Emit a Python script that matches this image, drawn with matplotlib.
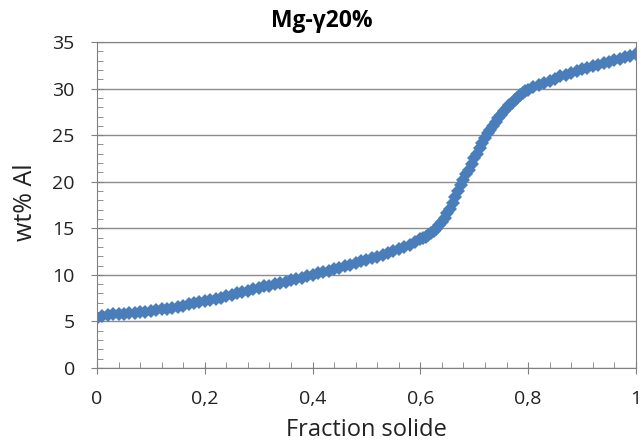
import matplotlib.pyplot as plt
from matplotlib.ticker import MultipleLocator, FuncFormatter

# Fraction solide (x) et teneur en Al (y)
frac = [0.00, 0.01, 0.02, 0.03, 0.04, 0.05, 0.06, 0.07, 0.08, 0.09,
        0.10, 0.11, 0.12, 0.13, 0.14, 0.15, 0.16, 0.17, 0.18, 0.19,
        0.20, 0.21, 0.22, 0.23, 0.24, 0.25, 0.26, 0.27, 0.28, 0.29,
        0.30, 0.31, 0.32, 0.33, 0.34, 0.35, 0.36, 0.37, 0.38, 0.39,
        0.40, 0.41, 0.42, 0.43, 0.44, 0.45, 0.46, 0.47, 0.48, 0.49,
        0.50, 0.51, 0.52, 0.53, 0.54, 0.55, 0.56, 0.57, 0.58, 0.59,
        0.60, 0.605, 0.61, 0.615, 0.62, 0.625, 0.63, 0.635, 0.64, 0.645,
        0.65, 0.655, 0.66, 0.665, 0.67, 0.675, 0.68, 0.685, 0.69, 0.695,
        0.70, 0.705, 0.71, 0.715, 0.72, 0.725, 0.73, 0.735, 0.74, 0.745,
        0.75, 0.755, 0.76, 0.765, 0.77, 0.775, 0.78, 0.785, 0.79, 0.795,
        0.80, 0.81, 0.82, 0.83, 0.84, 0.85, 0.86, 0.87, 0.88, 0.89,
        0.90, 0.91, 0.92, 0.93, 0.94, 0.95, 0.96, 0.97, 0.98, 0.99, 1.00]
wt_al = [5.4, 5.6, 5.7, 5.75, 5.8, 5.85, 5.9, 5.95, 6.0, 6.05,
         6.1, 6.2, 6.3, 6.35, 6.45, 6.55, 6.7, 6.85, 6.95, 7.05,
         7.15, 7.3, 7.4, 7.55, 7.7, 7.85, 8.0, 8.15, 8.3, 8.45,
         8.6, 8.75, 8.85, 9.0, 9.1, 9.25, 9.4, 9.55, 9.7, 9.85,
         10.0, 10.15, 10.3, 10.45, 10.6, 10.75, 10.9, 11.1, 11.25, 11.45,
         11.6, 11.8, 11.95, 12.15, 12.35, 12.55, 12.8, 13.0, 13.25, 13.5,
         13.8, 13.95, 14.1, 14.3, 14.5, 14.7, 14.95, 15.3, 15.7, 16.1,
         16.6, 17.1, 17.7, 18.4, 19.0, 19.6, 20.2, 20.8, 21.3, 21.9,
         22.5, 23.0, 23.6, 24.2, 24.7, 25.2, 25.6, 26.0, 26.4, 26.8,
         27.2, 27.6, 27.9, 28.2, 28.5, 28.8, 29.0, 29.3, 29.5, 29.7,
         29.9, 30.15, 30.4, 30.6, 30.85, 31.05, 31.3, 31.5, 31.7, 31.9,
         32.05, 32.2, 32.4, 32.55, 32.75, 32.9, 33.05, 33.2, 33.35, 33.5, 33.7]

plt.rcParams['font.family'] = ['Open Sans', 'DejaVu Sans']

fig = plt.figure(figsize=(6.41, 4.44), dpi=100)
ax = fig.add_axes([0.1513, 0.1712, 0.8407, 0.7342])

ax.plot(frac, wt_al, linestyle='none', marker='D', markersize=7.5,
        color='#4A7EBB', markeredgewidth=0)

ax.set_xlim(0, 1)
ax.set_ylim(0, 35)
ax.xaxis.set_major_locator(MultipleLocator(0.2))
ax.xaxis.set_minor_locator(MultipleLocator(0.04))
ax.yaxis.set_major_locator(MultipleLocator(5))
ax.yaxis.set_minor_locator(MultipleLocator(1))
ax.xaxis.set_major_formatter(FuncFormatter(lambda v, p: f"{v:g}".replace('.', ',')))

ax.grid(True, axis='y', which='major', color='#8C8C8C', linewidth=1)
ax.set_axisbelow(True)
for s in ax.spines.values():
    s.set_color('#808080')
ax.tick_params(which='major', direction='inout', length=8, color='#808080',
               labelsize=14, labelcolor='#222222')
ax.tick_params(axis='y', which='major', pad=12)
ax.tick_params(axis='x', which='major', pad=12)
ax.tick_params(which='minor', direction='in', length=4, color='#808080')

fig.suptitle('Mg-γ20%', x=322 / 641, y=1 - 21 / 444, va='center',
             fontsize=16.5, fontweight='bold')
ax.set_xlabel('Fraction solide', fontsize=17, color='#222222')
ax.set_ylabel('wt% Al', fontsize=18, color='#222222')
ax.xaxis.set_label_coords(0.5, -0.19)
ax.yaxis.set_label_coords(-0.132, 0.51)
ax.xaxis.label.set_va('center')
ax.yaxis.label.set_va('center')

fig.savefig('out.png', dpi=100)
